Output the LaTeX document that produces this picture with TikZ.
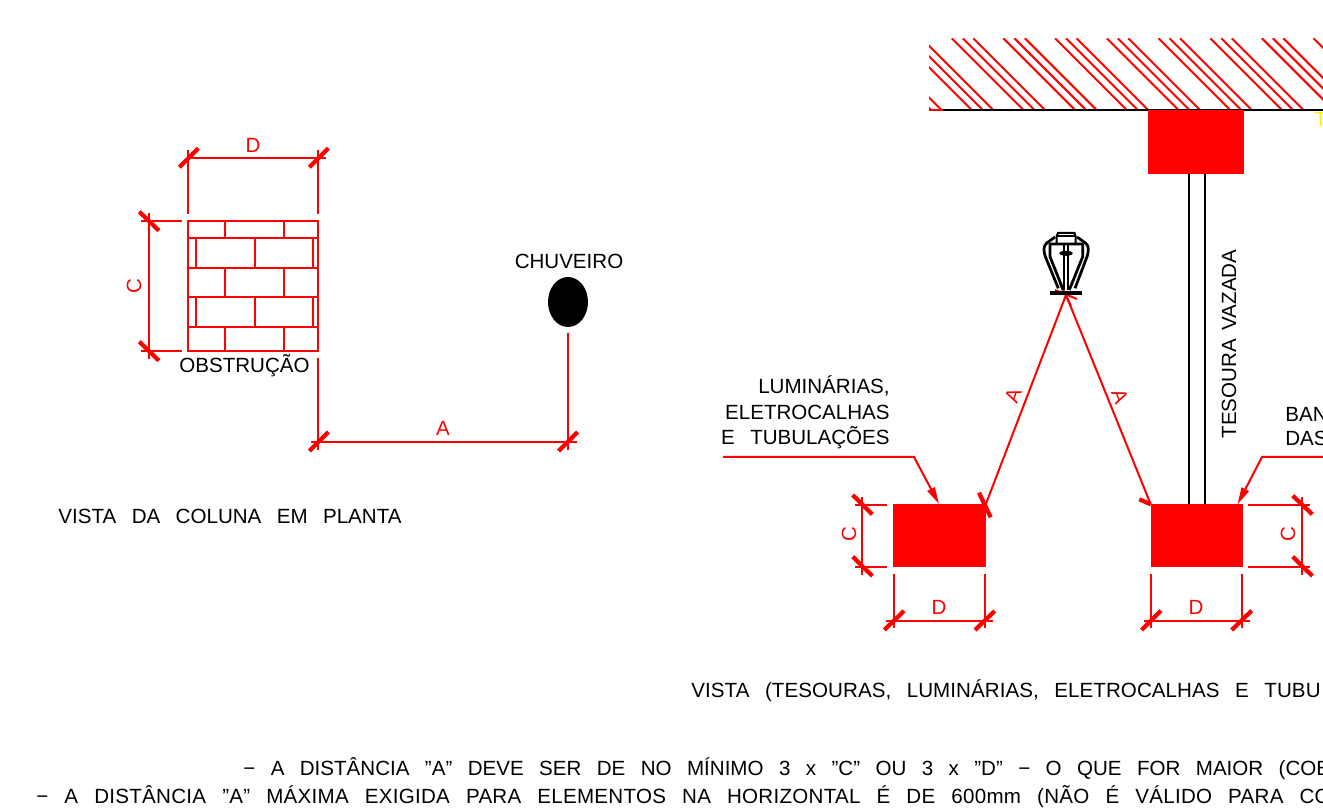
\documentclass[tikz,border=0pt]{standalone}
\usepackage{fontspec}
\setmainfont{Liberation Sans}[WordSpace=2.7]
\newfontfamily\tightfont{Liberation Sans}[WordSpace=1.5]
\usetikzlibrary{arrows.meta}
\tikzset{
  dimline/.style={red, line width=0.04cm},
  tickline/.style={red, line width=0.085cm},
  leader/.style={red, line width=0.04cm, -{Triangle[length=0.34cm,width=0.16cm]}},
  blackline/.style={black, line width=0.04cm},
  sprinkline/.style={black, line width=0.055cm},
  plantext/.style={font=\fontsize{11.7}{14}\selectfont, text=black, inner sep=0pt},
  dimtext/.style={font=\fontsize{11.7}{14}\selectfont, text=red, inner sep=0pt}
}
\begin{document}
\begin{tikzpicture}[x=0.02cm, y=-0.02cm]
    \clip (0,0) rectangle (1323,810);
    \fill[white] (0,0) rectangle (1323,810);

    % Coluna em planta
    \draw[dimline] (188.3,220.7) rectangle (318.3,351);
    \foreach \yy in {238.3,267.7,297.3,326.7}
        \draw[dimline] (188.3,\yy) -- (318.3,\yy);
    \foreach \yy/\yb in {220.7/238.3,267.7/297.3,326.7/351}
        \foreach \xx in {225.3,283.7}
            \draw[dimline] (\xx,\yy) -- (\xx,\yb);
    \foreach \yy/\yb in {238.3/267.7,297.3/326.7}
        \foreach \xx in {196,254.7,313.3}
            \draw[dimline] (\xx,\yy) -- (\xx,\yb);

    % Cotas da coluna
    \draw[dimline] (188.3,214) -- (188.3,150);
    \draw[dimline] (318.3,214) -- (318.3,150);
    \draw[dimline] (188.3,157.7) -- (326,157.7);
    \draw[tickline] (179.3,167.3) -- (198.3,148.3);
    \draw[tickline] (309.3,167.3) -- (328.3,148.3);
    \node[dimtext] (labelDcol) at (253,145) {D};
    \draw[dimline] (141,221) -- (182,221);
    \draw[dimline] (141,351) -- (182,351);
    \draw[dimline] (148.7,213) -- (148.7,359);
    \draw[tickline] (139.3,211.7) -- (159,230.7);
    \draw[tickline] (139.3,341.7) -- (159,360.7);
    \node[dimtext, rotate=90] (labelCcol) at (134,286) {C};
    \node[plantext] (obstrucao) at (244.5,366) {OBSTRUÇÃO};

    % Chuveiro e distancia A
    \fill[black] (568,302) ellipse (20 and 25);
    \node[plantext] (chuveiro) at (569,261) {CHUVEIRO};
    \draw[dimline] (318.3,358) -- (318.3,450);
    \draw[dimline] (568,333) -- (568,450);
    \draw[dimline] (311,442) -- (577,442);
    \draw[tickline] (309.3,451) -- (328.3,432);
    \draw[tickline] (558.7,451) -- (577.7,432);
    \node[dimtext] (labelAcol) at (443,428) {A};
    \node[plantext] (vistaplanta) at (230,516) {VISTA DA COLUNA EM PLANTA};

    % Laje hachurada
    \begin{scope}
        \clip (929,38.3) rectangle (1323,110);
        \foreach \k in {-2,...,8}
            \foreach \d in {0,11,21.5}
                \draw[dimline] ({951.7+51.7*\k+\d},38.3) -- ++(72,72);
    \end{scope}
    \draw[dimline] (929,110) -- (943,110);
    \draw[blackline] (943,110) -- (1323,110);
    \fill[red] (1148,110.5) rectangle (1244,174);
    \node[font=\fontsize{11.7}{14}\selectfont, text=yellow, inner sep=0pt, anchor=north west] (labelT) at (1314,112) {T};

    % Tesoura
    \draw[blackline] (1189,174) -- (1189,505);
    \draw[blackline] (1205,174) -- (1205,505);
    \node[plantext, rotate=90] (tesoura) at (1229,344) {\tightfont TESOURA VAZADA};

    % Blocos
    \fill[red] (893.3,504) rectangle (985.7,567.3);
    \fill[red] (1150.7,504) rectangle (1242.7,567.3);

    % Cotas do bloco esquerdo
    \draw[dimline] (855,504.7) -- (887,504.7);
    \draw[dimline] (855,566.7) -- (887,566.7);
    \draw[dimline] (862.3,497) -- (862.3,575);
    \draw[tickline] (852.7,495) -- (872.3,514.3);
    \draw[tickline] (852.7,556.7) -- (872.3,576);
    \node[dimtext, rotate=90] (labelCesq) at (849,534) {C};
    \draw[dimline] (894,573.7) -- (894,628);
    \draw[dimline] (984.7,573.7) -- (984.7,628);
    \draw[dimline] (886,620.7) -- (992.7,620.7);
    \draw[tickline] (884.3,630) -- (904,611);
    \draw[tickline] (975,630) -- (994.7,611);
    \node[dimtext] (labelDesq) at (939,607) {D};

    % Cotas do bloco direito
    \draw[dimline] (1248.3,505) -- (1310,505);
    \draw[dimline] (1248.3,566.7) -- (1310,566.7);
    \draw[dimline] (1302,497) -- (1302,575);
    \draw[tickline] (1292.7,495.7) -- (1312.3,514.3);
    \draw[tickline] (1292.7,556.7) -- (1312.3,576);
    \node[dimtext, rotate=90] (labelCdir) at (1288,534) {C};
    \draw[dimline] (1151.3,573.7) -- (1151.3,628);
    \draw[dimline] (1242,573.7) -- (1242,628);
    \draw[dimline] (1144,620.7) -- (1250,620.7);
    \draw[tickline] (1141.7,630) -- (1161,610.7);
    \draw[tickline] (1231.7,630) -- (1251.7,610.7);
    \node[dimtext] (labelDdir) at (1196,607) {D};

    % Distancias A ate o chuveiro
    \draw[dimline] (985.5,505) -- (1066,295) -- (1151,505);
    \draw[tickline] (979,492.7) -- (990.7,517.3);
    \draw[tickline] (1139.3,499.3) -- (1150.7,504.3);
    \draw[dimline] (1060,284) -- (1071,306);
    \draw[dimline] (1055,290) -- (1077,299);
    \node[dimtext, rotate=69] (labelAesq) at (1013,396) {A};
    \node[dimtext, rotate=-69] (labelAdir) at (1120,396) {A};

    % Chuveiro em vista
    \draw[sprinkline, rounded corners=2pt] (1055,237) -- (1044,245) -- (1044,253.3) -- (1058.3,288.3);
    \draw[sprinkline, rounded corners=2pt] (1077,237) -- (1088.3,245) -- (1088.3,253.3) -- (1075,288.3);
    \draw[sprinkline] (1063.3,290) -- (1050,256.7) -- (1050,244) -- (1082.7,244) -- (1082.7,256.7) -- (1069.3,290);
    \draw[blackline] (1063.8,244) -- (1063.8,290);
    \draw[blackline] (1068.3,244) -- (1068.3,290);
    \draw[blackline] (1056.7,244) -- (1056.7,236) -- (1058,233) -- (1074.5,233) -- (1075.5,236) -- (1075.5,244);
    \draw[blackline] (1056.7,236) -- (1075.5,236);
    \fill[black] (1066,253.3) ellipse (6.7 and 2.5);
    \draw[black, line width=0.08cm] (1050,293.3) -- (1082,293.3);

    % Chamadas
    \coordinate (leadesq) at (723,457);
    \coordinate (leaddir) at (1323,457);
    \draw[leader] (leadesq) -- (914,457) -- (939,504);
    \draw[leader] (leaddir) -- (1262,457) -- (1237.5,504.3);
    \node[plantext, anchor=east] (lumin1) at (890,386) {LUMINÁRIAS,};
    \node[plantext, anchor=east] (lumin2) at (890,412) {ELETROCALHAS};
    \node[plantext, anchor=east] (lumin3) at (890,438) {E TUBULAÇÕES};
    \node[plantext, anchor=west] (ban1) at (1285,414) {BAN};
    \node[plantext, anchor=west] (das1) at (1285,438) {DAS};

    % Notas
    \node[plantext, anchor=west] (vistatesoura) at (691,691) {\addfontfeatures{LetterSpace=0.3}VISTA (TESOURAS, LUMINÁRIAS, ELETROCALHAS E TUBU};
    \node[plantext, anchor=west] (nota1) at (243,769) {− A DISTÂNCIA "A" DEVE SER DE NO MÍNIMO 3 x "C" OU 3 x "D" − O QUE FOR MAIOR (COB};
    \node[plantext, anchor=west] (nota2) at (36,797) {\addfontfeatures{LetterSpace=1.3}− A DISTÂNCIA "A" MÁXIMA EXIGIDA PARA ELEMENTOS NA HORIZONTAL É DE 600mm (NÃO É VÁLIDO PARA COI};
\end{tikzpicture}
\end{document}
